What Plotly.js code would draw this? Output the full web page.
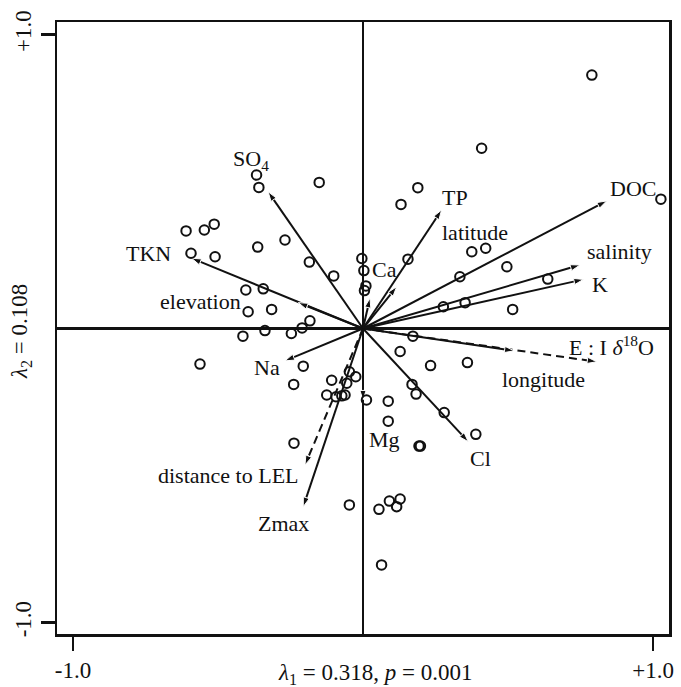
<!DOCTYPE html>
<html>
<head>
<meta charset="utf-8">
<script src="https://cdn.plot.ly/plotly-3.0.1.min.js"></script>
<style>html,body{margin:0;padding:0;background:#fff;}#chart{width:681px;height:687px;}</style>
</head>
<body>
<div id="chart"></div>
<script>
// ---- Site scores (open circles) ----
const siteX = [-0.367,-0.359,-0.151,-0.610,-0.547,-0.513,-0.363,-0.269,-0.593,-0.510,-0.185,-0.101,-0.404,-0.344,-0.396,-0.315,-0.183,-0.210,-0.338,-0.247,-0.414,
  -0.004,0.003,0.010,0.005,
  0.789,0.409,0.189,0.131,1.027,0.155,0.375,0.423,0.496,0.334,0.277,0.352,0.637,0.516,
  0.172,0.128,0.233,0.360,0.012,0.087,0.087,0.169,0.183,0.280,0.389,0.193,0.198,0.055,0.091,0.128,0.116,0.064,
  -0.562,-0.206,-0.239,-0.108,-0.047,-0.025,-0.056,-0.125,-0.093,-0.073,-0.062,-0.238,-0.047];
const siteY = [0.522,0.480,0.497,0.332,0.335,0.355,0.277,0.301,0.256,0.244,0.226,0.179,0.131,0.135,0.057,0.065,0.026,0.002,-0.007,-0.017,-0.026,
  0.238,0.197,0.145,0.129,
  0.862,0.613,0.479,0.422,0.440,0.236,0.261,0.273,0.210,0.176,0.074,0.088,0.168,0.065,
  -0.026,-0.078,-0.126,-0.116,-0.243,-0.247,-0.315,-0.190,-0.223,-0.286,-0.360,-0.400,-0.400,-0.615,-0.587,-0.580,-0.606,-0.804,
  -0.121,-0.128,-0.190,-0.176,-0.147,-0.164,-0.186,-0.226,-0.232,-0.229,-0.226,-0.390,-0.600];

// ---- Environmental vectors ----
const vecNames  = ['E:I d18O','distance to LEL','SO4','TKN','elevation','Na','Zmax','Mg','Cl','longitude','DOC','salinity','K','TP','latitude','Ca'];
const vecLabels = ['E : I <i>δ</i><sup>18</sup>O','distance to LEL','SO<sub>4</sub>','TKN','elevation','Na','Zmax','Mg','Cl','longitude','DOC','salinity','K','TP','latitude','Ca'];
const vecX = [0.806,-0.200,-0.327,-0.591,-0.223,-0.269,-0.206,0.000,0.363,0.521,0.840,0.748,0.760,0.271,0.116,0.024];
const vecY = [-0.113,-0.464,0.465,0.239,0.088,-0.110,-0.606,-0.243,-0.385,-0.076,0.434,0.216,0.167,0.403,0.142,0.103];

// ---- styles (not data) ----
const dashedVectors = {'E:I d18O':true,'distance to LEL':true};
// label offsets from arrow tips, in pixels (xshift, yshift)
const labelShift = {
  'E:I d18O':[15,16],'distance to LEL':[-76,-11],'SO4':[-17,32],'TKN':[-43,5],'elevation':[-98,1],
  'Na':[-18,-7],'Zmax':[-20,-17],'Mg':[21,-40],'Cl':[12,-17],'longitude':[29,-29],'DOC':[26,12],
  'salinity':[40,14],'K':[17,-5],'TP':[13,13],'latitude':[78,54],'Ca':[15,29]
};

const FONT = 'Liberation Serif, Times New Roman, serif';
const traces = [];
vecNames.forEach((n, i) => {
  traces.push({
    type: 'scatter', mode: 'lines+markers',
    x: [0, vecX[i]], y: [0, vecY[i]],
    line: {color: '#111', width: 2, dash: dashedVectors[n] ? '8px,5px' : 'solid'},
    marker: {symbol: ['circle', 'arrow'], size: [0, 10], opacity: [0, 1], angleref: 'previous', color: '#111'},
    hoverinfo: 'skip', showlegend: false, cliponaxis: false
  });
});
traces.push({
  type: 'scatter', mode: 'markers', x: siteX, y: siteY,
  marker: {symbol: 'circle-open', size: 9.5, color: '#111', line: {width: 2, color: '#111'}},
  hoverinfo: 'skip', showlegend: false
});

const annotations = vecNames.map((n, i) => ({
  x: vecX[i], y: vecY[i], xref: 'x', yref: 'y', text: vecLabels[i], showarrow: false,
  xshift: labelShift[n][0], yshift: labelShift[n][1],
  xanchor: 'center', yanchor: 'middle',
  font: {family: FONT, size: 22, color: '#111'}
}));
annotations.push({
  xref: 'paper', yref: 'paper', x: 0.519, y: -0.066, xanchor: 'center', yanchor: 'middle',
  text: '<i>λ</i><sub>1</sub> = 0.318, <i>p</i> = 0.001', showarrow: false,
  font: {family: FONT, size: 23, color: '#111'}
});
annotations.push({
  xref: 'paper', yref: 'paper', x: -0.059, y: 0.495, xanchor: 'center', yanchor: 'middle',
  text: '<i>λ</i><sub>2</sub> = 0.108', showarrow: false, textangle: -90,
  font: {family: FONT, size: 23, color: '#111'}
});

const axisCommon = {
  showgrid: false, zeroline: true, zerolinecolor: '#111', zerolinewidth: 2.5,
  showline: true, mirror: true, linecolor: '#111', linewidth: 2.5,
  ticks: 'outside', ticklen: 14, tickwidth: 2.5, tickcolor: '#111',
  tickfont: {family: FONT, size: 23, color: '#111'}, fixedrange: true
};
const layout = {
  width: 681, height: 687,
  margin: {l: 57, r: 12, t: 22, b: 53, pad: 0},
  paper_bgcolor: '#fff', plot_bgcolor: '#fff',
  xaxis: Object.assign({}, axisCommon, {range: [-1.055, 1.055], tickvals: [-1, 1], ticktext: ['-1.0', '+1.0']}),
  yaxis: Object.assign({}, axisCommon, {range: [-1.039, 1.0425], tickvals: [-1, 1], ticktext: ['-1.0', '+1.0'], tickangle: -90}),
  annotations: annotations,
  showlegend: false
};
Plotly.newPlot('chart', traces, layout, {displayModeBar: false, staticPlot: true});
</script>
</body>
</html>
